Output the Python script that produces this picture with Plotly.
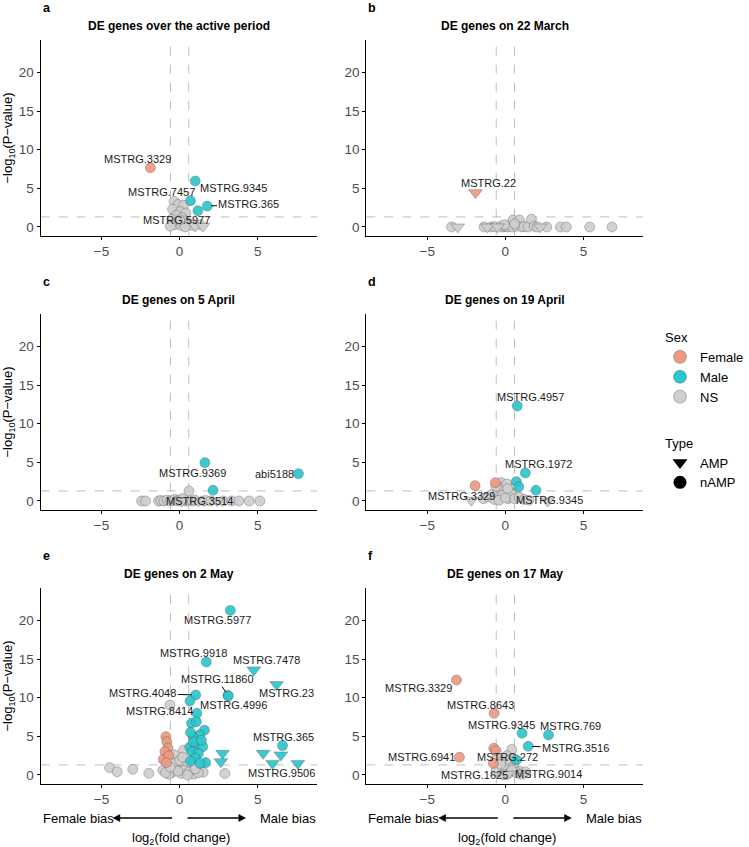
import plotly.graph_objects as go

# ---------------- DATA ----------------
# Panel a: DE genes over the active period
a_gene = ["MSTRG.3329", "MSTRG.9345", "MSTRG.7457", "MSTRG.365", "MSTRG.5977"] + [""] * 22
a_fc = [-1.87, 1.00, 0.70, 1.77, 1.17,
        -0.35, -0.10, 0.25, -0.45, 0.05, 0.40, -0.20, 0.15, -0.50, 0.30, -0.05, 0.50,
        -0.30, 0.10, 0.60, 0.80, 1.00, 1.30, 1.50, -0.60, 0.35, 0.00]
a_logp = [7.67, 5.95, 3.40, 2.70, 2.10,
          3.30, 2.90, 2.80, 2.30, 2.00, 1.80, 1.50, 1.20, 1.00, 0.80, 0.60, 0.50,
          0.30, 0.20, 0.40, 0.20, 0.10, 0.30, 0.10, 0.10, 0.00, 0.90]
a_sex = ["Female", "Male", "Male", "Male", "Male"] + ["NS"] * 22
a_type = ["nAMP"] * 5 + ["nAMP"] * 16 + ["AMP", "nAMP", "AMP", "nAMP", "nAMP", "nAMP"]

# Panel b: DE genes on 22 March
b_gene = ["MSTRG.22"] + [""] * 30
b_fc = [-1.91,
        -3.44, -3.05, -1.36, -1.15, -0.90, -0.70, -0.50, -0.30, -0.15, 0.00, 0.15, 0.30,
        0.45, 0.49, 0.90, 0.70, 1.05, 1.20, 1.45, 1.67, 1.85, 2.05, 2.24, 2.65, 3.52,
        3.90, 5.40, 6.83, -0.05, 0.60]
b_logp = [4.44,
          0.00, 0.00, 0.00, 0.00, 0.00, 0.05, 0.00, 0.10, 0.00, 0.05, 0.00, 0.20,
          0.00, 0.90, 0.90, 0.10, 0.00, 0.05, 0.00, 1.00, 0.10, 0.00, 0.00, 0.00, 0.00,
          0.00, 0.00, 0.00, 0.30, 0.40]
b_sex = ["Female"] + ["NS"] * 30
b_type = ["AMP", "nAMP", "AMP", "nAMP", "AMP", "nAMP", "nAMP", "AMP"] + ["nAMP"] * 15 + ["AMP"] + ["nAMP"] * 7

# Panel c: DE genes on 5 April
c_gene = ["MSTRG.9369", "abi5188", "MSTRG.3514"] + [""] * 28
c_fc = [1.62, 7.61, 2.14,
        -2.43, -2.18, -1.35, -1.20, -1.00, -0.80, -0.60, -0.45, -0.30, -0.15, 0.00,
        0.15, 0.30, 0.45, 0.60, 0.80, 1.00, 1.20, 1.50, 1.67, 2.00, 2.40, 2.80, 3.33,
        3.80, 4.46, 5.14, 0.20]
c_logp = [4.96, 3.53, 1.38,
          0.00, 0.00, 0.00, 0.05, 0.00, 0.10, 0.00, 0.05, 0.20, 0.00, 0.10,
          0.00, 0.05, 0.00, 1.29, 0.00, 0.10, 0.00, 0.00, 0.05, 0.00, 0.00, 0.00, 0.00,
          0.00, 0.00, 0.00, 0.30]
c_sex = ["Male", "Male", "Male"] + ["NS"] * 28
c_type = ["nAMP"] * 14 + ["AMP"] + ["nAMP"] * 5 + ["AMP"] + ["nAMP"] * 3 + ["AMP"] + ["nAMP"] * 6

# Panel d: DE genes on 19 April
d_gene = ["MSTRG.4957", "MSTRG.1972", "MSTRG.3329", "MSTRG.9345", "", "", ""] + [""] * 24
d_fc = [0.76, 1.28, -1.94, 1.96, 0.70, 0.86, -0.64,
        -0.27, -2.18, 2.70, -1.40, -1.10, -0.90, -0.70, -0.50, -0.30, -0.10, 0.10, 0.30,
        0.50, 0.20, -0.20, 0.40, -0.40, 0.00, 0.60, 0.90, 1.20, 1.50, -0.60, 0.15]
d_logp = [12.29, 3.62, 1.98, 1.38, 2.50, 1.85, 2.37,
          2.37, 0.10, 0.00, 0.30, 0.50, 0.80, 0.20, 1.00, 1.50, 1.80, 2.20, 1.20,
          0.60, 0.30, 0.70, 0.90, 0.10, 0.40, 0.30, 0.50, 0.20, 0.10, 1.90, 1.60]
d_sex = ["Male", "Male", "Female", "Male", "Male", "Male", "Female"] + ["NS"] * 24
d_type = ["nAMP"] * 8 + ["AMP", "AMP"] + ["nAMP"] * 21

# Panel e: DE genes on 2 May
e_gene = ["MSTRG.5977", "MSTRG.9918", "MSTRG.7478", "MSTRG.23", "MSTRG.11860", "MSTRG.4996",
          "MSTRG.4048", "MSTRG.8414", "MSTRG.365", "MSTRG.9506"] + [""] * 59
e_fc = [3.25, 1.71, 4.75, 6.21, 3.09, 3.12, 1.03, -0.62, 6.59, 7.57,
        # male nAMP
        0.66, 1.11, 0.76, 1.07, 1.59, 1.28, 0.86, 0.97, 0.65, 1.48, 0.80, 1.20, 1.00, 1.66,
        0.70, 1.30, 0.90, 1.40, 0.70,
        # male AMP
        2.75, 2.64, 5.35, 6.48, 5.95,
        # female
        -0.88, -0.82, -0.75, -0.94, -1.05, -0.70, -0.85,
        # NS
        -4.48, -4.00, -3.00, -1.97, -1.08, 0.25, -0.33, 1.51, 2.90, -0.50, -0.20, 0.10,
        0.40, -0.40, 0.00, 0.30, -0.70, 0.60, 0.90, 1.20, -0.90, 0.20, -0.10, 0.50, -0.60,
        1.00]
e_logp = [21.30, 14.62, 13.60, 11.70, 10.30, 10.22, 10.35, 9.06, 3.80, 1.50,
          9.57, 7.98, 6.70, 6.90, 5.80, 5.20, 4.96, 3.75, 3.60, 3.66, 3.00, 2.80, 2.20, 1.60,
          1.80, 1.50, 4.30, 4.50, 5.50,
          2.80, 1.72, 2.80, 2.60, 1.50,
          4.96, 4.30, 3.50, 3.00, 2.00, 2.50, 1.60,
          0.95, 0.43, 0.73, 0.22, 0.60, 3.20, 2.60, 0.35, 0.20, 0.30, 0.80, 0.20,
          1.20, 1.50, 1.90, 0.60, 0.10, 0.40, 0.10, 0.30, 0.30, 2.30, 0.50, 0.00, 1.00,
          0.80]
e_sex = (["Male"] * 7 + ["NS"] + ["Male", "Male"] + ["Male"] * 19 + ["Male"] * 5
         + ["Female"] * 7 + ["NS"] * 26)
e_type = (["nAMP", "nAMP", "AMP", "AMP", "nAMP", "nAMP", "nAMP", "nAMP", "nAMP", "AMP"]
          + ["nAMP"] * 19 + ["AMP"] * 5 + ["nAMP"] * 7 + ["nAMP"] * 26)

# Panel f: DE genes on 17 May
f_gene = ["MSTRG.3329", "MSTRG.8643", "MSTRG.9345", "MSTRG.769", "MSTRG.3516", "MSTRG.6941",
          "MSTRG.272", "MSTRG.1625", "MSTRG.9014"] + [""] * 22
f_fc = [-3.13, -0.72, 1.07, 2.76, 1.46, -2.94, 0.41, -0.30, 0.90,
        -0.74, -0.60, -0.77, 0.71,
        -0.50, -0.20, 0.10, 0.30, -0.40, 0.00, 0.50, -0.60, 0.20, 0.70, 1.00, 1.30,
        -0.10, 0.40, -0.30, 0.60, 0.15, 1.20]
f_logp = [12.29, 7.98, 5.39, 5.17, 3.71, 2.29, 3.30, 0.40, 0.50,
          3.45, 3.14, 1.51, 1.94,
          2.20, 1.80, 2.50, 1.50, 1.10, 0.80, 1.00, 0.50, 0.20, 0.30, 0.10, 0.40,
          0.00, 0.60, 1.40, 2.00, 0.10, 0.20]
f_sex = (["Female", "Female", "Male", "Male", "Male", "Female", "NS", "NS", "NS"]
         + ["Female", "Female", "Female", "Male"] + ["NS"] * 18)
f_type = ["nAMP"] * 29 + ["AMP", "AMP"]

panel_letters = ["a", "b", "c", "d", "e", "f"]
panel_titles = ["DE genes over the active period", "DE genes on 22 March", "DE genes on 5 April",
                "DE genes on 19 April", "DE genes on 2 May", "DE genes on 17 May"]
x_ticks = [-5, 0, 5]
x_ticktext = ["\u22125", "0", "5"]
y_ticks = [0, 5, 10, 15, 20]
fc_cut = 0.585
p_cut = 1.301

# label placement (layout): panel -> gene -> (label x, label y, draw segment)
label_pos = {
    "a": {"MSTRG.3329": (-2.72, 8.8, False), "MSTRG.9345": (3.46, 5.0, False),
          "MSTRG.7457": (-1.19, 4.57, False), "MSTRG.365": (4.44, 2.98, True),
          "MSTRG.5977": (-0.2, 0.9, False)},
    "b": {"MSTRG.22": (-1.09, 5.65, False)},
    "c": {"MSTRG.9369": (0.8, 3.66, False), "abi5188": (6.07, 3.45, False),
          "MSTRG.3514": (1.3, 0.04, False)},
    "d": {"MSTRG.4957": (1.6, 13.4, False), "MSTRG.1972": (2.1, 4.8, False),
          "MSTRG.3329": (-2.8, 0.7, False), "MSTRG.9345": (2.82, 0.13, False)},
    "e": {"MSTRG.5977": (2.41, 20.05, False), "MSTRG.9918": (0.86, 15.8, False),
          "MSTRG.7478": (5.56, 14.9, False), "MSTRG.23": (6.83, 10.57, False),
          "MSTRG.11860": (2.41, 12.4, True), "MSTRG.4996": (3.48, 9.06, False),
          "MSTRG.4048": (-2.35, 10.57, True), "MSTRG.8414": (-1.3, 8.3, False),
          "MSTRG.365": (6.67, 4.96, False), "MSTRG.9506": (6.53, 0.26, False)},
    "f": {"MSTRG.3329": (-5.54, 11.3, False), "MSTRG.8643": (-1.57, 9.06, False),
          "MSTRG.9345": (-0.23, 6.47, False), "MSTRG.769": (4.2, 6.34, False),
          "MSTRG.3516": (4.5, 3.53, True), "MSTRG.6941": (-5.37, 2.29, False),
          "MSTRG.272": (0.12, 2.29, False), "MSTRG.1625": (-1.95, 0.0, False),
          "MSTRG.9014": (2.78, 0.13, False)},
}

panels = [
    (a_gene, a_fc, a_logp, a_sex, a_type),
    (b_gene, b_fc, b_logp, b_sex, b_type),
    (c_gene, c_fc, c_logp, c_sex, c_type),
    (d_gene, d_fc, d_logp, d_sex, d_type),
    (e_gene, e_fc, e_logp, e_sex, e_type),
    (f_gene, f_fc, f_logp, f_sex, f_type),
]

# ---------------- STYLE ----------------
W, H = 749, 847
FONT = "Liberation Sans, Arial, Helvetica, sans-serif"
FILL = {"Female": "#EE9A82", "Male": "#2CC6CD", "NS": "#CFCFCF"}
SYMBOL = {"AMP": "triangle-down", "nAMP": "circle"}
OUTLINE = "rgba(70,70,70,0.45)"


def px(x):
    return x / W


def py(y):
    return 1 - y / H


XDOM = [[px(42), px(328)], [px(379), px(665)]]
ROW_TOP = [40, 314, 588]
ROW_BOT = [235.7, 509.7, 783.7]
XC = [185, 522]

fig = go.Figure()
annotations = []
shapes = []
layout_axes = {}

for i, (gene, fc, lp, sex, typ) in enumerate(panels):
    r, c = i // 2, i % 2
    sfx = "" if i == 0 else str(i + 1)
    xa, ya = "x" + sfx, "y" + sfx
    layout_axes["xaxis" + sfx] = dict(
        domain=XDOM[c], anchor=ya, range=[-8.9, 8.8], tickvals=x_ticks, ticktext=x_ticktext,
        showline=True, linecolor="black", linewidth=1.1, ticks="outside", ticklen=3,
        tickcolor="black", tickfont=dict(size=13.5, color="#4D4D4D"), showgrid=False,
        zeroline=False)
    layout_axes["yaxis" + sfx] = dict(
        domain=[py(ROW_BOT[r]), py(ROW_TOP[r])], anchor=xa, range=[-1.13, 24.2],
        tickvals=y_ticks, showline=True, linecolor="black", linewidth=1.1, ticks="outside",
        ticklen=3, tickcolor="black", tickfont=dict(size=13.5, color="#4D4D4D"),
        showgrid=False, zeroline=False)

    # threshold lines
    for xv in (-fc_cut, fc_cut):
        shapes.append(dict(type="line", xref=xa, yref=ya + " domain", x0=xv, x1=xv, y0=0, y1=1,
                           line=dict(color="#BEBEBE", width=1, dash="dash"), layer="below"))
    shapes.append(dict(type="line", xref=xa + " domain", yref=ya, x0=0, x1=1, y0=p_cut, y1=p_cut,
                       line=dict(color="#BEBEBE", width=1, dash="dash"), layer="below"))

    # points
    for s in ["NS", "Female", "Male"]:
        for t in ["nAMP", "AMP"]:
            idx = [k for k in range(len(fc)) if sex[k] == s and typ[k] == t]
            if not idx:
                continue
            fig.add_trace(go.Scatter(
                x=[fc[k] for k in idx], y=[lp[k] for k in idx], xaxis=xa, yaxis=ya,
                mode="markers", showlegend=False, hoverinfo="skip",
                marker=dict(symbol=SYMBOL[t], size=10 if t == "nAMP" else 12, color=FILL[s],
                            opacity=0.92, line=dict(color=OUTLINE, width=0.8))))

    # gene labels
    letter = panel_letters[i]
    for g, (lx, ly, seg) in label_pos[letter].items():
        k = gene.index(g)
        if seg:
            annotations.append(dict(
                x=fc[k], y=lp[k], xref=xa, yref=ya, ax=lx, ay=ly, axref=xa, ayref=ya,
                text=g, showarrow=True, arrowhead=0, arrowwidth=1, arrowcolor="black",
                standoff=4, font=dict(size=11, color="#1A1A1A", family=FONT)))
        else:
            annotations.append(dict(
                x=lx, y=ly, xref=xa, yref=ya, text=g, showarrow=False,
                font=dict(size=11, color="#1A1A1A", family=FONT)))

    # titles and letters
    annotations.append(dict(x=px(XC[c]), y=py(26 + 274 * r), xref="paper", yref="paper",
                            text="<b>" + panel_titles[i] + "</b>", showarrow=False,
                            xanchor="center", yanchor="middle",
                            font=dict(size=12, color="black", family=FONT)))
    annotations.append(dict(x=px(42 if c == 0 else 379), y=py(8 + 274 * r), xref="paper",
                            yref="paper", text="<b>" + letter + "</b>", showarrow=False,
                            xanchor="left", yanchor="middle",
                            font=dict(size=12.5, color="black", family=FONT)))

# y axis titles (left column)
for r in range(3):
    annotations.append(dict(x=px(9), y=py((ROW_TOP[r] + ROW_BOT[r]) / 2), xref="paper",
                            yref="paper", text="\u2212log<sub>10</sub>(P\u2212value)",
                            textangle=-90, showarrow=False, xanchor="center", yanchor="middle",
                            font=dict(size=13, color="black", family=FONT)))


def arrow(x_tail, x_head, y):
    """Horizontal arrow drawn with shapes (pixel positions converted to paper)."""
    d = 1 if x_head > x_tail else -1
    hl, hw = 7, 3.5
    shapes.append(dict(type="line", xref="paper", yref="paper", x0=px(x_tail), x1=px(x_head - d * hl),
                       y0=py(y), y1=py(y), line=dict(color="black", width=1.3)))
    shapes.append(dict(type="path", xref="paper", yref="paper",
                       path=(f"M {px(x_head)},{py(y)} L {px(x_head - d * hl)},{py(y - hw)} "
                             f"L {px(x_head - d * hl)},{py(y + hw)} Z"),
                       fillcolor="black", line=dict(color="black", width=0.5)))


# bottom annotations
for c in range(2):
    x0, x1 = XDOM[c][0] * W, XDOM[c][1] * W
    annotations.append(dict(x=px(x0), y=py(818), xref="paper", yref="paper", text="Female bias",
                            showarrow=False, xanchor="left", yanchor="middle",
                            font=dict(size=13, color="black", family=FONT)))
    annotations.append(dict(x=px(x1 + 1), y=py(818), xref="paper", yref="paper", text="Male bias",
                            showarrow=False, xanchor="right", yanchor="middle",
                            font=dict(size=13, color="black", family=FONT)))
    arrow(x0 + 136, x0 + 75, 818)
    arrow(x1 - 134, x1 - 74, 818)
    annotations.append(dict(x=px(XC[c] + 2), y=py(838), xref="paper", yref="paper",
                            text="log<sub>2</sub>(fold change)", showarrow=False,
                            xanchor="center", yanchor="middle",
                            font=dict(size=13, color="black", family=FONT)))

# legend entries
for j, s in enumerate(["Female", "Male", "NS"]):
    fig.add_trace(go.Scatter(
        x=[None], y=[None], mode="markers", name=s, legendgroup="sex",
        legendgrouptitle=dict(text="Sex", font=dict(size=13, color="black")) if j == 0 else None,
        marker=dict(symbol="circle", size=13, color=FILL[s], line=dict(color=OUTLINE, width=0.8))))
for j, t in enumerate(["AMP", "nAMP"]):
    fig.add_trace(go.Scatter(
        x=[None], y=[None], mode="markers", name=t, legendgroup="type",
        legendgrouptitle=dict(text="Type", font=dict(size=13, color="black")) if j == 0 else None,
        marker=dict(symbol=SYMBOL[t], size=13, color="black")))

fig.update_layout(
    width=W, height=H, margin=dict(l=0, r=0, t=0, b=0),
    paper_bgcolor="white", plot_bgcolor="white",
    font=dict(family=FONT, size=12, color="black"),
    annotations=annotations, shapes=shapes,
    legend=dict(x=px(683), y=py(322), xanchor="left", yanchor="top", tracegroupgap=26,
                font=dict(size=13, color="black"), bgcolor="rgba(0,0,0,0)"),
    **layout_axes)

fig.write_html("out.html")
